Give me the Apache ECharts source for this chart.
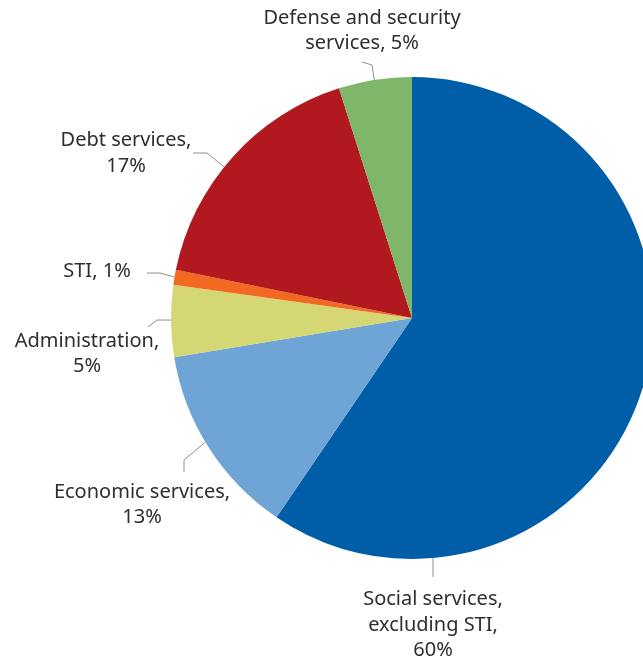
<!DOCTYPE html>
<html>
<head>
<meta charset="utf-8">
<script src="https://cdn.jsdelivr.net/npm/echarts@6/dist/echarts.min.js"></script>
<style>
  html, body { margin: 0; padding: 0; background: #ffffff; }
  #chart { width: 643px; height: 657px; }
</style>
</head>
<body>
<div id="chart"></div>
<script>
// ---- data ----
var categories = [
  'Social services,\nexcluding STI',
  'Economic services',
  'Administration',
  'STI',
  'Debt services',
  'Defense and security\nservices'
];
var shares = [59.5, 12.9, 4.8, 1.0, 16.9, 4.9];
var percentSeparators = [',\n', ',\n', ',\n', ', ', ',\n', ', '];
var colors = ['#005EA8', '#6FA5D6', '#D5D775', '#F26A21', '#B2191F', '#7EB66A'];

// ---- layout (not data) ----
var CX = 412, CY = 318, R = 241;
// label guide: start angle on rim (deg clockwise from top), bend points, text center
var labelGuides = [
  { a: 175,   pts: [[433, 577]],            tx: 433, ty: 625 },
  { a: 239,   pts: [[184, 460], [184, 472]], tx: 142, ty: 505 },
  { a: 269.5, pts: [[157, 320], [148, 327]], tx: 87,  ty: 354 },
  { a: 279.8, pts: [[160, 273], [147, 273]], tx: 97,  ty: 271 },
  { a: 308.8, pts: [[207, 153], [193, 153]], tx: 126, ty: 153.5 },
  { a: 351,   pts: [[372, 65], [362, 62]],   tx: 362, ty: 31 }
];

var data = categories.map(function (c, i) {
  return { name: c, value: shares[i], itemStyle: { color: colors[i] } };
});

var chart = echarts.init(document.getElementById('chart'), null, { renderer: 'canvas' });
chart.setOption({
  backgroundColor: '#ffffff',
  animation: false,
  series: [{
    type: 'pie',
    center: [CX, CY],
    radius: [0, R],
    startAngle: 90,
    clockwise: true,
    avoidLabelOverlap: false,
    data: data,
    itemStyle: { borderWidth: 0 },
    label: {
      show: true,
      position: 'outside',
      fontFamily: 'Noto Sans',
      fontSize: 20,
      lineHeight: 25.5,
      color: '#2e2e2e',
      formatter: function (p) {
        return p.name + percentSeparators[p.dataIndex] + Math.round(p.value) + '%';
      }
    },
    labelLine: {
      show: true,
      length: 10,
      length2: 10,
      smooth: false,
      lineStyle: { color: '#8f8f8f', width: 1 }
    },
    labelLayout: function (params) {
      var g = labelGuides[params.dataIndex];
      var rad = g.a * Math.PI / 180;
      var start = [CX + R * Math.sin(rad), CY - R * Math.cos(rad)];
      return {
        x: g.tx,
        y: g.ty,
        align: 'center',
        verticalAlign: 'middle',
        labelLinePoints: [start].concat(g.pts)
      };
    }
  }]
});
</script>
</body>
</html>
